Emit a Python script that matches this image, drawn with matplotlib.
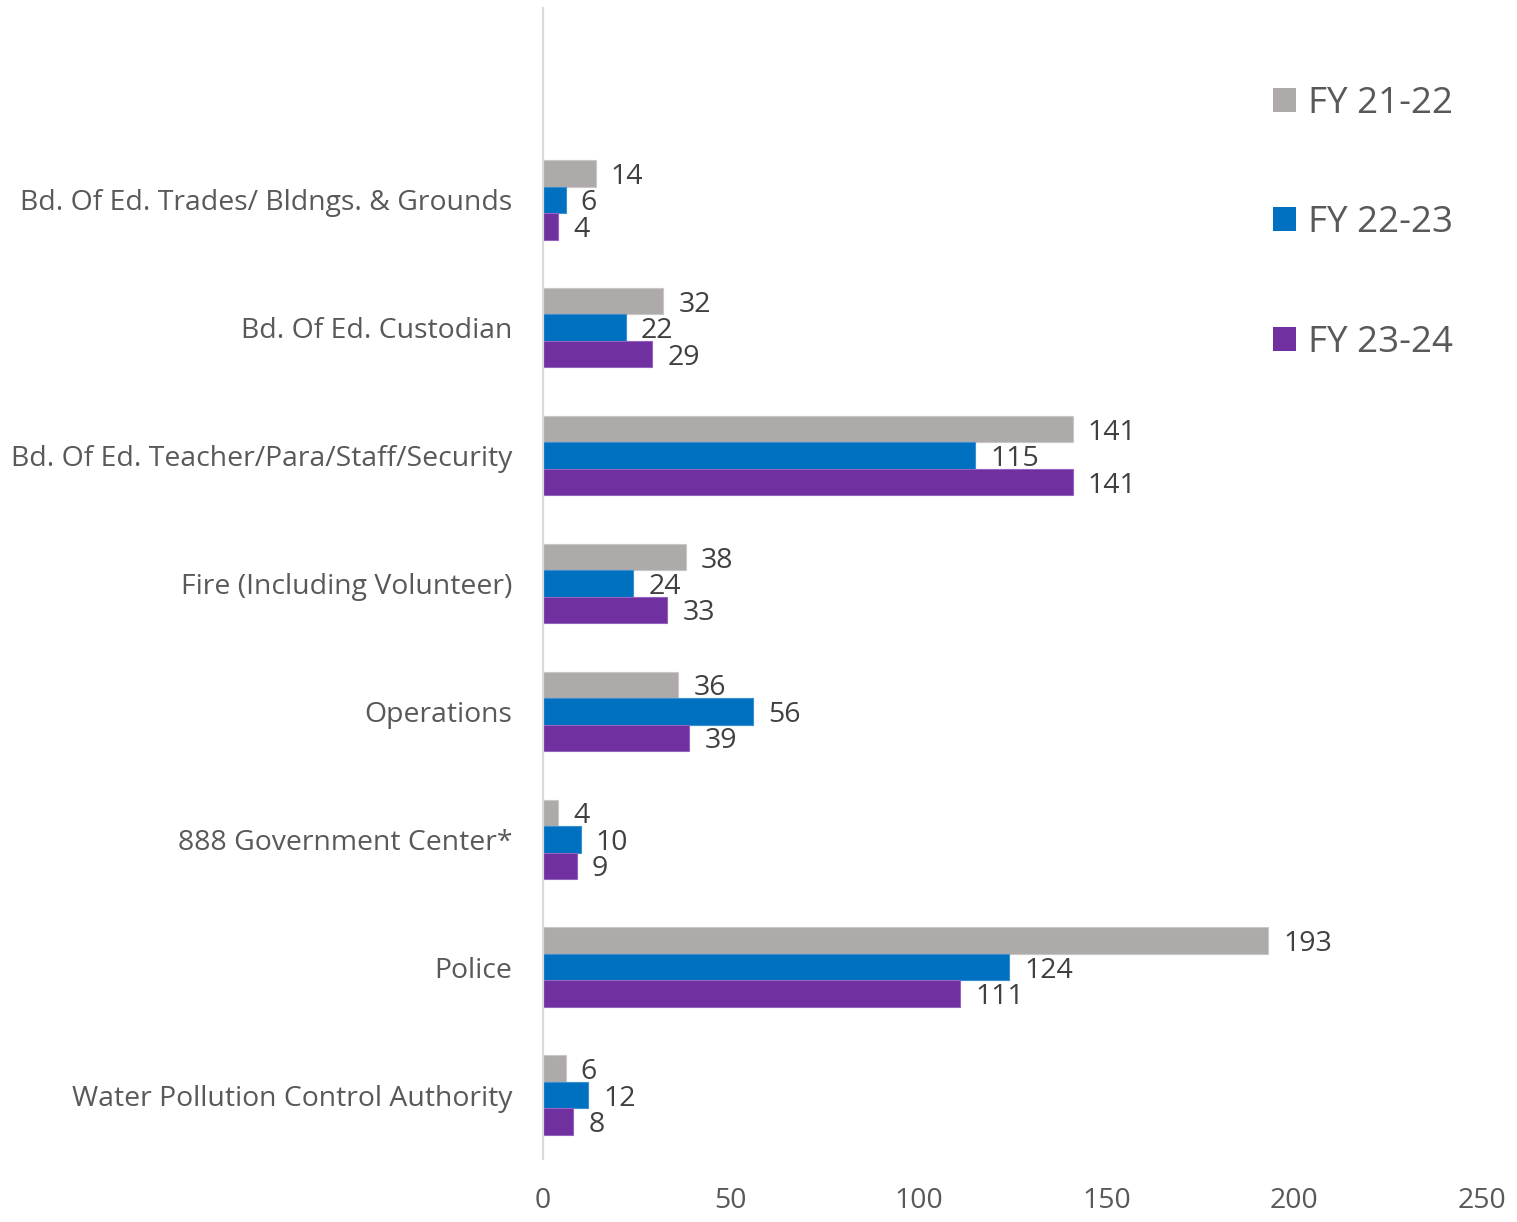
import matplotlib
matplotlib.use("Agg")
import matplotlib.pyplot as plt
from matplotlib.patches import Patch
import numpy as np

plt.rcParams['font.family'] = ['Open Sans', 'DejaVu Sans']

categories = [
    "Bd. Of Ed. Trades/ Bldngs. & Grounds",
    "Bd. Of Ed. Custodian",
    "Bd. Of Ed. Teacher/Para/Staff/Security",
    "Fire (Including Volunteer)",
    "Operations",
    "888 Government Center*",
    "Police",
    "Water Pollution Control Authority",
]
series_names = ["FY 21-22", "FY 22-23", "FY 23-24"]
fy_21_22 = [14, 32, 141, 38, 36, 4, 193, 6]
fy_22_23 = [6, 22, 115, 24, 56, 10, 124, 12]
fy_23_24 = [4, 29, 141, 33, 39, 9, 111, 8]
colors = ["#AEAAAA", "#0070C0", "#7030A0"]
edge_colors = ["#C8C6C6", "#3A8FD0", "#9462C0"]
xticks = [0, 50, 100, 150, 200, 250]

W, H = 1517, 1222
fig = plt.figure(figsize=(W / 100, H / 100), dpi=100)
ax = fig.add_axes([543 / W, 1 - 1159 / H, (1482 - 543) / W, (1159 - 8) / H])

n = len(categories)
ypos = np.arange(n)[::-1]
bh = 0.207
offsets = [bh, 0, -bh]
series = [fy_21_22, fy_22_23, fy_23_24]

for vals, off, c, ec, name in zip(series, offsets, colors, edge_colors, series_names):
    bars = ax.barh(ypos + off, vals, height=bh, color=c, edgecolor=ec,
                   linewidth=0.8, label=name, zorder=2)
    texts = ax.bar_label(bars, labels=[str(v) for v in vals], padding=11,
                         fontsize=20.5, color="#404040")
    for t in texts:
        t.set_verticalalignment('center_baseline')

ax.set_xlim(0, 250)
ax.set_ylim(-0.5, n + 0.5)
ax.set_xticks(xticks)
ax.set_xticklabels([str(t) for t in xticks])
ax.set_yticks(ypos)
ax.set_yticklabels(categories)
ax.tick_params(axis='x', length=0, pad=20, labelsize=20.5, labelcolor="#595959")
ax.tick_params(axis='y', length=0, pad=22, labelsize=20.4, labelcolor="#595959")
for lbl in ax.get_yticklabels():
    lbl.set_verticalalignment('center_baseline')
for s in ["top", "right", "bottom"]:
    ax.spines[s].set_visible(False)
ax.spines["left"].set_color("#D9D9D9")
ax.spines["left"].set_linewidth(1.6)
ax.spines["left"].set_zorder(3)

handles = [Patch(facecolor=c, edgecolor='none') for c in colors]
fig.legend(handles, series_names, loc='upper left',
           bbox_to_anchor=(1258 / W, 1 - 71 / H), frameon=False,
           fontsize=26.5, handlelength=0.64, handleheight=0.64,
           handletextpad=0.33, labelspacing=2.27, labelcolor="#595959",
           borderaxespad=0)

fig.savefig("out.png", dpi=100)
